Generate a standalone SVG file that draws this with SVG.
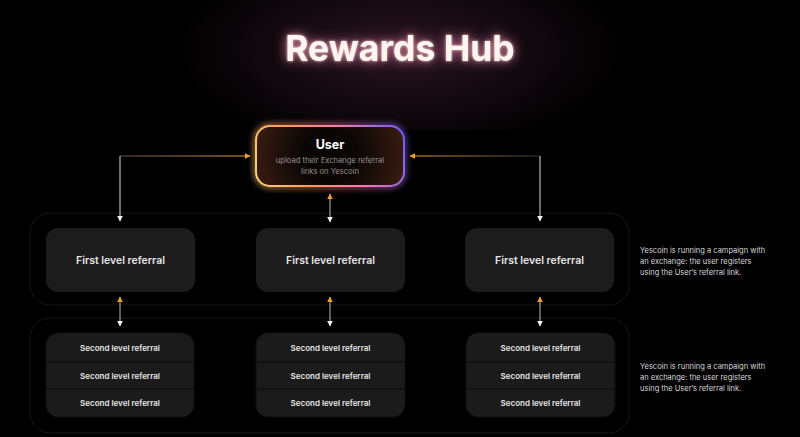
<svg xmlns="http://www.w3.org/2000/svg" width="800" height="437" viewBox="0 0 800 437">
<defs>
<style>
.lvl1{fill:#1c1c1c}
.lvl1t{font-family:Inter,"Liberation Sans",sans-serif;font-size:10.5px;font-weight:600;fill:#e6e6e6;text-anchor:middle}
.lvl2{fill:#1b1b1b;stroke:#101010;stroke-width:1}
.lvl2t{font-family:Inter,"Liberation Sans",sans-serif;font-size:8px;font-weight:600;fill:#e6e6e6;text-anchor:middle}
.div{stroke:#0a0a0a;stroke-width:1.2}
.cont{fill:none;stroke:#161616;stroke-width:1}
.side{font-family:Inter,"Liberation Sans",sans-serif;font-size:7.5px;fill:#d8d8d8}
.wline{stroke:#d8d8d8;stroke-width:1;fill:none}
</style>
<radialGradient id="bgGlow" cx="400" cy="50" r="230" gradientUnits="userSpaceOnUse" gradientTransform="translate(0 50) scale(1 0.45) translate(0 -50)">
<stop offset="0" stop-color="#2a1420"/>
<stop offset="0.5" stop-color="#140a10"/>
<stop offset="1" stop-color="#000"/>
</radialGradient>
<filter id="glow" x="-30%" y="-60%" width="160%" height="220%">
<feGaussianBlur in="SourceAlpha" stdDeviation="6" result="b"/>
<feFlood flood-color="#ff8fc0" flood-opacity="0.9"/>
<feComposite in2="b" operator="in" result="g"/>
<feGaussianBlur in="SourceAlpha" stdDeviation="1.5" result="b2"/>
<feFlood flood-color="#ffd0c0" flood-opacity="0.9"/>
<feComposite in2="b2" operator="in" result="g2"/>
<feMerge><feMergeNode in="g"/><feMergeNode in="g2"/><feMergeNode in="SourceGraphic"/></feMerge>
</filter>
<linearGradient id="userStroke" x1="256" y1="186" x2="404" y2="126" gradientUnits="userSpaceOnUse">
<stop offset="0" stop-color="#ffd27a"/>
<stop offset="0.3" stop-color="#ff9a55"/>
<stop offset="0.6" stop-color="#ff7aa8"/>
<stop offset="1" stop-color="#6b5cff"/>
</linearGradient>
<radialGradient id="userFill" cx="330" cy="156" r="90" gradientUnits="userSpaceOnUse">
<stop offset="0.3" stop-color="#0a0605"/>
<stop offset="0.8" stop-color="#331a10"/>
<stop offset="1" stop-color="#6a3a22"/>
</radialGradient>
<filter id="uglow" x="-20%" y="-40%" width="140%" height="180%">
<feGaussianBlur stdDeviation="3"/>
</filter>
<linearGradient id="hL" x1="120" y1="0" x2="250" y2="0" gradientUnits="userSpaceOnUse">
<stop offset="0" stop-color="#555"/>
<stop offset="1" stop-color="#f0a030"/>
</linearGradient>
<linearGradient id="hR" x1="540" y1="0" x2="410" y2="0" gradientUnits="userSpaceOnUse">
<stop offset="0" stop-color="#333"/>
<stop offset="1" stop-color="#f0a030"/>
</linearGradient>
<marker id="ao" viewBox="0 0 10 10" refX="9" refY="5" markerWidth="6" markerHeight="6" orient="auto-start-reverse">
<path d="M0 0 L10 5 L0 10 z" fill="#f0a030"/>
</marker>
<marker id="aw" viewBox="0 0 10 10" refX="9" refY="5" markerWidth="6" markerHeight="6" orient="auto-start-reverse">
<path d="M0 0 L10 5 L0 10 z" fill="#f2f2f2"/>
</marker>
</defs>
<rect width="800" height="437" fill="#000"/>
<rect width="800" height="130" fill="url(#bgGlow)"/>

<g id="title">
<text x="400" y="61" text-anchor="middle" font-family="Inter,'Liberation Sans',sans-serif" font-size="35.5" font-weight="700" fill="#fff5f2" filter="url(#glow)">Rewards Hub</text>
</g>

<g id="containers">
<rect class="cont" x="30" y="213" width="599" height="92" rx="20"/>
<rect class="cont" x="30" y="318" width="599" height="115" rx="20"/>
</g>

<g id="connectors">
<path d="M120 156 H250" stroke="url(#hL)" stroke-width="1" fill="none" marker-end="url(#ao)"/>
<path d="M120 156 V221" class="wline" marker-end="url(#aw)"/>
<path d="M540 156 H410" stroke="url(#hR)" stroke-width="1" fill="none" marker-end="url(#ao)"/>
<path d="M540 156 V221" class="wline" marker-end="url(#aw)"/>
<line x1="330" y1="194" x2="330" y2="222" stroke="#bbb" stroke-width="1" marker-start="url(#ao)" marker-end="url(#aw)"/>
<line x1="120" y1="297" x2="120" y2="326" stroke="#bbb" stroke-width="1" marker-start="url(#ao)" marker-end="url(#aw)"/>
<line x1="330" y1="297" x2="330" y2="326" stroke="#bbb" stroke-width="1" marker-start="url(#ao)" marker-end="url(#aw)"/>
<line x1="540" y1="297" x2="540" y2="326" stroke="#bbb" stroke-width="1" marker-start="url(#ao)" marker-end="url(#aw)"/>
</g>

<g id="user">
<rect x="256" y="126" width="148" height="60" rx="14" fill="none" stroke="url(#userStroke)" stroke-width="4" filter="url(#uglow)" opacity="0.8"/>
<rect x="256" y="126" width="148" height="60" rx="14" fill="url(#userFill)" stroke="url(#userStroke)" stroke-width="2"/>
<text x="330" y="149" text-anchor="middle" font-family="Inter,'Liberation Sans',sans-serif" font-size="12.5" font-weight="700" fill="#fff">User</text>
<text x="330" y="163" text-anchor="middle" font-family="Inter,'Liberation Sans',sans-serif" font-size="7.6" fill="#9a8f8a">upload their Exchange referral</text>
<text x="330" y="174" text-anchor="middle" font-family="Inter,'Liberation Sans',sans-serif" font-size="7.6" fill="#9a8f8a">links on Yescoin</text>
</g>

<g id="first-left">
<rect class="lvl1" x="46" y="228" width="149" height="64" rx="12"/>
<text class="lvl1t" x="120.5" y="264">First level referral</text>
</g>
<g id="first-middle">
<rect class="lvl1" x="256" y="228" width="149" height="64" rx="12"/>
<text class="lvl1t" x="330.5" y="264">First level referral</text>
</g>
<g id="first-right">
<rect class="lvl1" x="465" y="228" width="149" height="64" rx="12"/>
<text class="lvl1t" x="539.5" y="264">First level referral</text>
</g>

<g id="note-first">
<text class="side" x="640" y="253">Yescoin is running a campaign with</text>
<text class="side" x="640" y="264">an  exchange: the user registers</text>
<text class="side" x="640" y="275">using the User’s referral link.</text>
</g>

<g id="second-left">
<rect class="lvl2" x="46" y="333" width="148" height="84" rx="12"/>
<line class="div" x1="46" y1="362" x2="194" y2="362"/>
<line class="div" x1="46" y1="389" x2="194" y2="389"/>
<text class="lvl2t" x="120" y="351">Second level referral</text>
<text class="lvl2t" x="120" y="379">Second level referral</text>
<text class="lvl2t" x="120" y="406">Second level referral</text>
</g>
<g id="second-middle">
<rect class="lvl2" x="256" y="333" width="149" height="84" rx="12"/>
<line class="div" x1="256" y1="362" x2="405" y2="362"/>
<line class="div" x1="256" y1="389" x2="405" y2="389"/>
<text class="lvl2t" x="330.5" y="351">Second level referral</text>
<text class="lvl2t" x="330.5" y="379">Second level referral</text>
<text class="lvl2t" x="330.5" y="406">Second level referral</text>
</g>
<g id="second-right">
<rect class="lvl2" x="466" y="333" width="149" height="84" rx="12"/>
<line class="div" x1="466" y1="362" x2="615" y2="362"/>
<line class="div" x1="466" y1="389" x2="615" y2="389"/>
<text class="lvl2t" x="540.5" y="351">Second level referral</text>
<text class="lvl2t" x="540.5" y="379">Second level referral</text>
<text class="lvl2t" x="540.5" y="406">Second level referral</text>
</g>

<g id="note-second">
<text class="side" x="640" y="369">Yescoin is running a campaign with</text>
<text class="side" x="640" y="380">an  exchange: the user registers</text>
<text class="side" x="640" y="391">using the User’s referral link.</text>
</g>
</svg>
